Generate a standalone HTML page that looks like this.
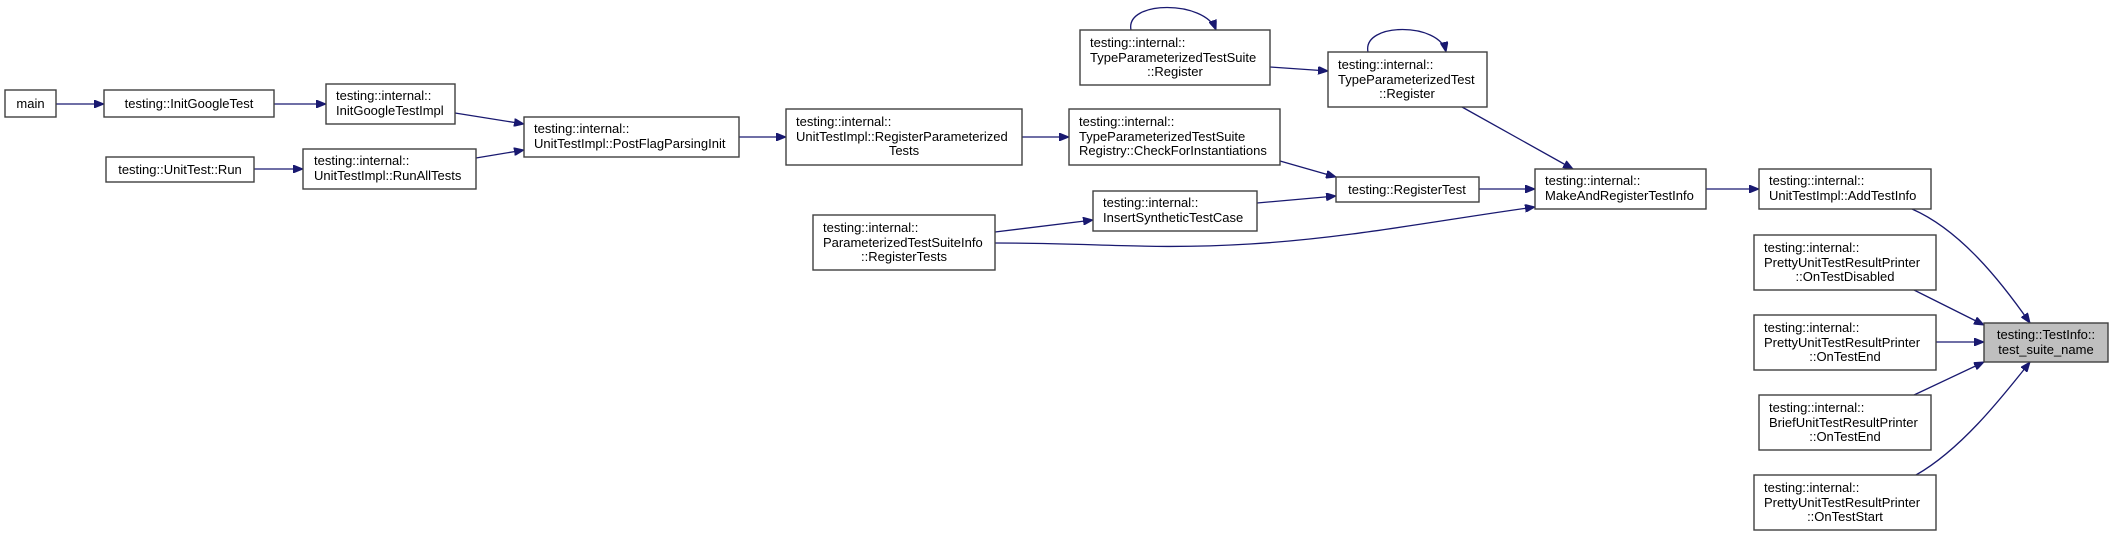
<!DOCTYPE html>
<html><head><meta charset="utf-8"><style>
html,body{margin:0;padding:0;background:#fff;}
svg{display:block;}
text{font-family:"Liberation Sans",Arial,sans-serif;font-size:13px;fill:#000;}
.b{fill:#fff;stroke:#404040;stroke-width:1.4;}
.e{fill:none;stroke:#191970;stroke-width:1.3;}
</style></head><body>
<svg width="2109" height="536" viewBox="0 0 2109 536" xmlns="http://www.w3.org/2000/svg">
<defs><marker id="a" markerWidth="10" markerHeight="8" refX="10" refY="4" orient="auto" markerUnits="userSpaceOnUse"><path d="M0,0 L10,4 L0,8 z" fill="#191970" stroke="#191970"/></marker></defs>

<!-- edges -->
<g class="e" marker-end="url(#a)">
<path class="e" marker-end="url(#a)" d="M56,104 L104,104"/>
<path class="e" marker-end="url(#a)" d="M274,104 L326,104"/>
<path class="e" marker-end="url(#a)" d="M455,113 L524,124"/>
<path class="e" marker-end="url(#a)" d="M476,158 L524,150"/>
<path class="e" marker-end="url(#a)" d="M254,169 L303,169"/>
<path class="e" marker-end="url(#a)" d="M739,137 L786,137"/>
<path class="e" marker-end="url(#a)" d="M1022,137 L1069,137"/>
<path class="e" marker-end="url(#a)" d="M1280,161 L1336,177"/>
<path class="e" marker-end="url(#a)" d="M1270,67 L1328,71"/>
<path class="e" marker-end="url(#a)" d="M1257,203 L1336,196"/>
<path class="e" marker-end="url(#a)" d="M995,232 L1093,220"/>
<path class="e" marker-end="url(#a)" d="M995,243 C1100,243 1150,250 1250,244 C1350,238 1440,220 1535,207"/>
<path class="e" marker-end="url(#a)" d="M1479,189 L1535,189"/>
<path class="e" marker-end="url(#a)" d="M1462,107 L1573,169"/>
<path class="e" marker-end="url(#a)" d="M1706,189 L1759,189"/>
<path class="e" marker-end="url(#a)" d="M1912,209 C1960,230 2000,280 2030,323"/>
<path class="e" marker-end="url(#a)" d="M1914,290 L1984,325"/>
<path class="e" marker-end="url(#a)" d="M1936,342 L1984,342"/>
<path class="e" marker-end="url(#a)" d="M1914,395 L1984,362"/>
<path class="e" marker-end="url(#a)" d="M1916,475 C1960,450 2000,400 2030,362"/>
<path class="e" marker-end="url(#a)" d="M1131,30 C1125,0 1205,0 1216,30"/>
<path class="e" marker-end="url(#a)" d="M1368,52 C1362,22 1440,22 1446,52"/>
</g>

<!-- nodes -->
<rect class="b" x="5" y="90" width="51" height="27"/>
<text x="30.5" y="108" text-anchor="middle">main</text>

<rect class="b" x="104" y="90" width="170" height="27"/>
<text x="189" y="108" text-anchor="middle">testing::InitGoogleTest</text>

<rect class="b" x="326" y="84" width="129" height="40"/>
<text x="336" y="100">testing::internal::</text>
<text x="336" y="115">InitGoogleTestImpl</text>

<rect class="b" x="106" y="157" width="148" height="25"/>
<text x="180" y="174" text-anchor="middle">testing::UnitTest::Run</text>

<rect class="b" x="303" y="149" width="173" height="40"/>
<text x="314" y="165">testing::internal::</text>
<text x="314" y="180">UnitTestImpl::RunAllTests</text>

<rect class="b" x="524" y="117" width="215" height="40"/>
<text x="534" y="133">testing::internal::</text>
<text x="534" y="148">UnitTestImpl::PostFlagParsingInit</text>

<rect class="b" x="786" y="109" width="236" height="56"/>
<text x="796" y="126">testing::internal::</text>
<text x="796" y="141">UnitTestImpl::RegisterParameterized</text>
<text x="904" y="155" text-anchor="middle">Tests</text>

<rect class="b" x="1069" y="109" width="211" height="56"/>
<text x="1079" y="126">testing::internal::</text>
<text x="1079" y="141">TypeParameterizedTestSuite</text>
<text x="1079" y="155">Registry::CheckForInstantiations</text>

<rect class="b" x="1080" y="30" width="190" height="55"/>
<text x="1090" y="47">testing::internal::</text>
<text x="1090" y="62">TypeParameterizedTestSuite</text>
<text x="1175" y="76" text-anchor="middle">::Register</text>

<rect class="b" x="1328" y="52" width="159" height="55"/>
<text x="1338" y="69">testing::internal::</text>
<text x="1338" y="84">TypeParameterizedTest</text>
<text x="1407" y="98" text-anchor="middle">::Register</text>

<rect class="b" x="1336" y="177" width="143" height="25"/>
<text x="1407" y="194" text-anchor="middle">testing::RegisterTest</text>

<rect class="b" x="1093" y="191" width="164" height="40"/>
<text x="1103" y="207">testing::internal::</text>
<text x="1103" y="222">InsertSyntheticTestCase</text>

<rect class="b" x="813" y="215" width="182" height="55"/>
<text x="823" y="232">testing::internal::</text>
<text x="823" y="247">ParameterizedTestSuiteInfo</text>
<text x="904" y="261" text-anchor="middle">::RegisterTests</text>

<rect class="b" x="1535" y="169" width="171" height="40"/>
<text x="1545" y="185">testing::internal::</text>
<text x="1545" y="200">MakeAndRegisterTestInfo</text>

<rect class="b" x="1759" y="169" width="172" height="40"/>
<text x="1769" y="185">testing::internal::</text>
<text x="1769" y="200">UnitTestImpl::AddTestInfo</text>

<rect class="b" x="1754" y="235" width="182" height="55"/>
<text x="1764" y="252">testing::internal::</text>
<text x="1764" y="267">PrettyUnitTestResultPrinter</text>
<text x="1845" y="281" text-anchor="middle">::OnTestDisabled</text>

<rect class="b" x="1754" y="315" width="182" height="55"/>
<text x="1764" y="332">testing::internal::</text>
<text x="1764" y="347">PrettyUnitTestResultPrinter</text>
<text x="1845" y="361" text-anchor="middle">::OnTestEnd</text>

<rect class="b" x="1759" y="395" width="172" height="55"/>
<text x="1769" y="412">testing::internal::</text>
<text x="1769" y="427">BriefUnitTestResultPrinter</text>
<text x="1845" y="441" text-anchor="middle">::OnTestEnd</text>

<rect class="b" x="1754" y="475" width="182" height="55"/>
<text x="1764" y="492">testing::internal::</text>
<text x="1764" y="507">PrettyUnitTestResultPrinter</text>
<text x="1845" y="521" text-anchor="middle">::OnTestStart</text>

<rect x="1984" y="323" width="124" height="39" fill="#bfbfbf" stroke="#404040" stroke-width="1.4"/>
<text x="2046" y="339" text-anchor="middle">testing::TestInfo::</text>
<text x="2046" y="354" text-anchor="middle">test_suite_name</text>
</svg>
</body></html>
